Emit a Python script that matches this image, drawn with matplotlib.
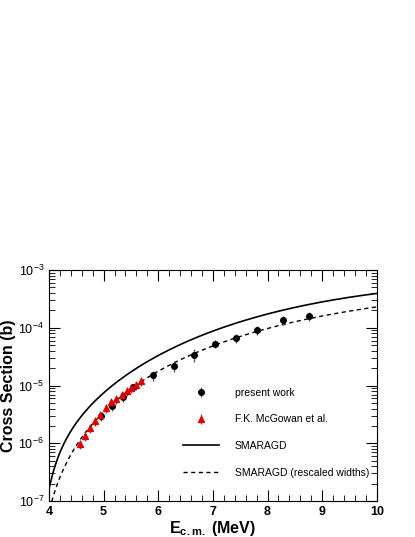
import matplotlib
matplotlib.use("Agg")
import matplotlib.pyplot as plt
import numpy as np

plt.rcParams['font.family'] = ['Liberation Sans', 'DejaVu Sans']
plt.rcParams['mathtext.fontset'] = 'custom'
plt.rcParams['mathtext.rm'] = 'Liberation Sans:bold'
plt.rcParams['mathtext.it'] = 'Liberation Sans:bold'
plt.rcParams['mathtext.bf'] = 'Liberation Sans:bold'

# present work
pw_x = [4.96, 5.15, 5.35, 5.54, 5.91, 6.29, 6.66, 7.04, 7.43, 7.81, 8.28, 8.75]
pw_y = [3.0e-6, 4.5e-6, 6.4e-6, 9.3e-6, 1.5e-5, 2.2e-5, 3.4e-5, 5.3e-5, 6.6e-5, 9.1e-5, 1.38e-4, 1.59e-4]
pw_err = [0.18, 0.18, 0.2, 0.15, 0.2, 0.22, 0.25, 0.15, 0.18, 0.18, 0.18, 0.18]  # relative

# McGowan et al.
mg_x = [4.56, 4.66, 4.75, 4.85, 4.94, 5.04, 5.13, 5.23, 5.33, 5.42, 5.51, 5.60, 5.69]
mg_y = [9.8e-7, 1.36e-6, 1.86e-6, 2.45e-6, 3.1e-6, 4.1e-6, 5.1e-6, 5.9e-6, 6.9e-6, 7.9e-6, 9.0e-6, 1.02e-5, 1.2e-5]
mg_err = [0.18] * len(mg_x)

# SMARAGD curves (log10 values)
sm_x = [4.0, 4.25, 4.5, 5.0, 5.5, 6.0, 6.5, 7.0, 7.5, 8.0, 8.5, 9.0, 9.5, 10.0]
sm_log = [-6.79, -6.1, -5.6, -5.1, -4.8, -4.5, -4.26, -4.03, -3.88, -3.76, -3.65, -3.55, -3.47, -3.41]
rs_x = [4.05, 4.25, 4.5, 5.0, 5.5, 6.0, 6.5, 7.0, 7.5, 8.0, 8.5, 9.0, 9.5, 10.0]
rs_log = [-7.0, -6.5, -6.04, -5.43, -5.03, -4.77, -4.54, -4.34, -4.16, -3.99, -3.86, -3.77, -3.71, -3.67]


def smooth(xs, ls):
    lx = np.log(np.array(xs) - 3.6)
    c = np.polyfit(lx, ls, 4)
    xx = np.linspace(xs[0], xs[-1], 300)
    return xx, 10 ** np.polyval(c, np.log(xx - 3.6))


fig = plt.figure(figsize=(4.15, 5.37), dpi=100)
ax = fig.add_axes([0.118, 0.067, 0.790, 0.430])

x1, y1 = smooth(sm_x, sm_log)
x2, y2 = smooth(rs_x, rs_log)
ax.plot(x1, y1, 'k-', lw=1.2, label='SMARAGD')
ax.plot(x2, y2, 'k--', lw=1.0, dashes=(3, 2.5), label='SMARAGD (rescaled widths)')

pw_y = np.array(pw_y)
mg_y = np.array(mg_y)
ax.errorbar(pw_x, pw_y, yerr=pw_y * np.array(pw_err), fmt='o', color='black',
            ms=4, ecolor='#555555', elinewidth=0.9, capsize=0, label='present work')
ax.errorbar(mg_x, mg_y, yerr=mg_y * np.array(mg_err), fmt='^', color='#e00000',
            ms=4.5, ecolor='#555555', elinewidth=0.9, capsize=0, label='F.K. McGowan et al.')

ax.set_yscale('log')
ax.set_xlim(4, 10)
ax.set_ylim(1e-7, 1e-3)
ax.set_xticks([4, 5, 6, 7, 8, 9, 10])
ax.xaxis.set_minor_locator(matplotlib.ticker.MultipleLocator(0.2))
ax.tick_params(which='both', direction='in', top=True, right=True, labelsize=9)
ax.tick_params(which='major', length=8)
ax.tick_params(which='minor', length=4)
for lab in ax.get_xticklabels():
    lab.set_fontweight('bold')
ax.set_xlabel(r'E$_{\mathregular{c.m.}}$ (MeV)', fontsize=11.5, fontweight='bold', labelpad=1)
ax.set_ylabel('Cross Section (b)', fontsize=11.5, fontweight='bold', labelpad=2)

h, l = ax.get_legend_handles_labels()
order = [2, 3, 0, 1]
ax.legend([h[i] for i in order], [l[i] for i in order], loc='lower left',
          bbox_to_anchor=(0.38, 0.06), frameon=False, fontsize=7.5,
          handlelength=3.5, labelspacing=1.6, handletextpad=1.5)

fig.savefig('out.png', dpi=100)
